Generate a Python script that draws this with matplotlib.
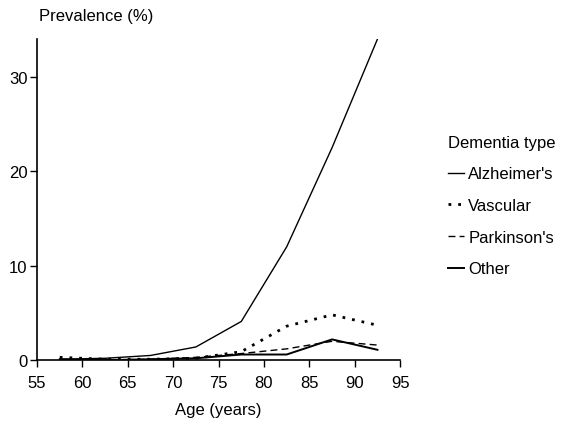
import matplotlib
matplotlib.use('Agg')
import matplotlib.pyplot as plt

plt.rcParams['font.family'] = ['Liberation Sans', 'DejaVu Sans']

# Age group midpoints (years)
ages = [57.5, 62.5, 67.5, 72.5, 77.5, 82.5, 87.5, 92.5]

# Prevalence (%) by dementia type
alzheimers = [0.1, 0.2, 0.5, 1.4, 4.1, 12.0, 22.5, 34.0]
vascular = [0.3, 0.1, 0.1, 0.2, 0.9, 3.6, 4.8, 3.7]
parkinsons = [0.0, 0.0, 0.1, 0.3, 0.7, 1.2, 2.0, 1.6]
other = [0.1, 0.0, 0.1, 0.2, 0.6, 0.6, 2.2, 1.1]

x_ticks = [55, 60, 65, 70, 75, 80, 85, 90, 95]
y_ticks = [0, 10, 20, 30]


def main():
    fig = plt.figure(figsize=(5.7, 4.31), dpi=100)
    ax = fig.add_axes([0.065, 0.162, 0.637, 0.745])

    ax.plot(ages, alzheimers, color='black', lw=1.0, label="Alzheimer's")
    ax.plot(ages, vascular, color='black', lw=2.0, linestyle=(0, (1, 2.5)),
            label='Vascular')
    ax.plot(ages, parkinsons, color='black', lw=1.0, linestyle=(0, (5, 3)),
            label="Parkinson's")
    ax.plot(ages, other, color='black', lw=1.4, label='Other')

    ax.set_xlim(55, 95)
    ax.set_ylim(0, 34)
    ax.set_xticks(x_ticks)
    ax.set_yticks(y_ticks)
    ax.tick_params(labelsize=12, length=5, width=1, direction='out')
    ax.tick_params(axis='x', pad=6)
    ax.tick_params(axis='y', pad=2)

    for side in ['top', 'right']:
        ax.spines[side].set_visible(False)
    for side in ['left', 'bottom']:
        ax.spines[side].set_linewidth(1.2)

    ax.set_xlabel('Age (years)', fontsize=12, labelpad=8)
    fig.text(0.068, 0.945, 'Prevalence (%)', fontsize=12, ha='left', va='bottom')

    fig.legend(loc='upper left', bbox_to_anchor=(0.76, 0.72), frameon=False,
               title='Dementia type', fontsize=12, title_fontsize=12,
               handlelength=0.95, handletextpad=0.25, labelspacing=1.0,
               alignment='left')

    fig.savefig('out.png', dpi=100)


if __name__ == '__main__':
    main()
